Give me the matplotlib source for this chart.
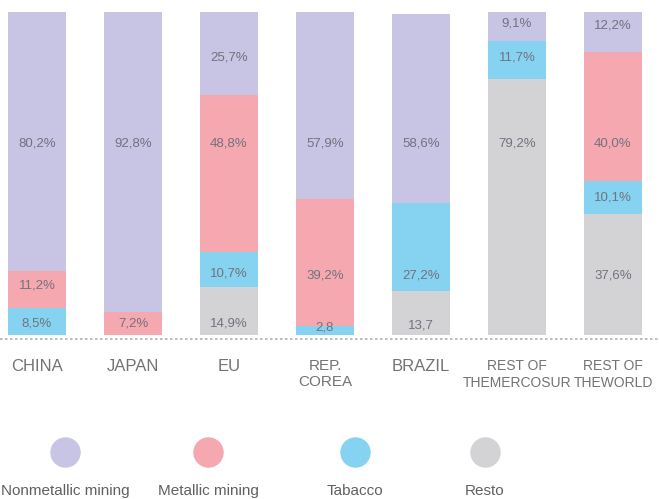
import matplotlib.pyplot as plt
import numpy as np

plt.rcParams['font.family'] = ['Liberation Sans', 'DejaVu Sans']

categories = ['CHINA', 'JAPAN', 'EU', 'REP.\nCOREA', 'BRAZIL',
              'REST OF\nTHEMERCOSUR', 'REST OF\nTHEWORLD']
resto = [0, 0, 14.9, 0, 13.7, 79.2, 37.6]
tabacco = [8.5, 0, 10.7, 2.8, 27.2, 11.7, 10.1]
metallic = [11.2, 7.2, 48.8, 39.2, 0, 0, 40.0]
nonmetallic = [80.2, 92.8, 25.7, 57.9, 58.6, 9.1, 12.2]
# labels as printed in the original (some lack the % sign)
resto_lbl = ['', '', '14,9%', '', '13,7', '79,2%', '37,6%']
tabacco_lbl = ['8,5%', '', '10,7%', '2,8', '27,2%', '11,7%', '10,1%']
metallic_lbl = ['11,2%', '7,2%', '48,8%', '39,2%', '', '', '40,0%']
nonmetallic_lbl = ['80,2%', '92,8%', '25,7%', '57,9%', '58,6%', '9,1%', '12,2%']

colors = {'Resto': '#d3d3d6', 'Tabacco': '#85d3f1',
          'Metallic mining': '#f5a8af', 'Nonmetallic mining': '#c7c4e4'}

W, H = 659, 499
BAR_TOP, BAR_BOT = 12, 335  # bar area in pixels

# the original snaps value labels to a few rows (pixel y, layout only)
label_rows = {
    'Resto': [None, None, 324, None, 325, 143, 275],
    'Tabacco': [324, None, 273, 328, 275, 58, 197],
    'Metallic mining': [286, 324, 143, 275, None, None, 143],
    'Nonmetallic mining': [143, 143, 58, 143, 143, 24, 25],
}


def px_to_data(py):
    return (BAR_BOT - py) / (BAR_BOT - BAR_TOP) * 100


fig = plt.figure(figsize=(W / 100, H / 100), dpi=100)

ax = fig.add_axes([0, 1 - BAR_BOT / H, 1, (BAR_BOT - BAR_TOP) / H])
x = np.arange(len(categories))
bottom = np.zeros(len(categories))
for name, vals, lbls in [('Resto', resto, resto_lbl),
                         ('Tabacco', tabacco, tabacco_lbl),
                         ('Metallic mining', metallic, metallic_lbl),
                         ('Nonmetallic mining', nonmetallic, nonmetallic_lbl)]:
    vals = np.array(vals)
    ax.bar(x, vals, 0.6, bottom=bottom, color=colors[name], linewidth=0)
    for i, (v, l) in enumerate(zip(vals, lbls)):
        if v > 0 and l:
            ly = label_rows[name][i]
            yy = px_to_data(ly) if ly is not None else bottom[i] + v / 2
            ax.text(x[i], yy, l, ha='center', va='center',
                    fontsize=9.5, color='#72727f')
    bottom += vals

ax.set_xlim(-37 / 96, (W - 37) / 96)
ax.set_ylim(0, 100)
ax.axis('off')
ax.axhline(-1.3, color='#b0b0b0', lw=1.2, ls=(0, (1.5, 1.5)), clip_on=False)

# long two-line labels are squeezed in the original -> smaller size here
for i, c in enumerate(categories):
    if c.startswith('REST'):
        fs, lsp = 10, 1.25
    elif '\n' in c:
        fs, lsp = 11, 1.15
    else:
        fs, lsp = 12, 1.05
    ax.text(x[i], px_to_data(359), c, ha='center', va='top', fontsize=fs,
            color='#737373', linespacing=lsp)

# legend drawn in pixel coordinates
lax = fig.add_axes([0, 0, 1, 1])
lax.set_xlim(0, W)
lax.set_ylim(H, 0)
lax.axis('off')
leg_x = [65, 208, 355, 485]
leg_order = ['Nonmetallic mining', 'Metallic mining', 'Tabacco', 'Resto']
for lx, name in zip(leg_x, leg_order):
    lax.scatter([lx], [452], s=480, color=colors[name], linewidths=0)
    lax.text(lx, 491, name, ha='center', va='center', fontsize=11,
             color='#606060')

fig.savefig('out.png', dpi=100)
